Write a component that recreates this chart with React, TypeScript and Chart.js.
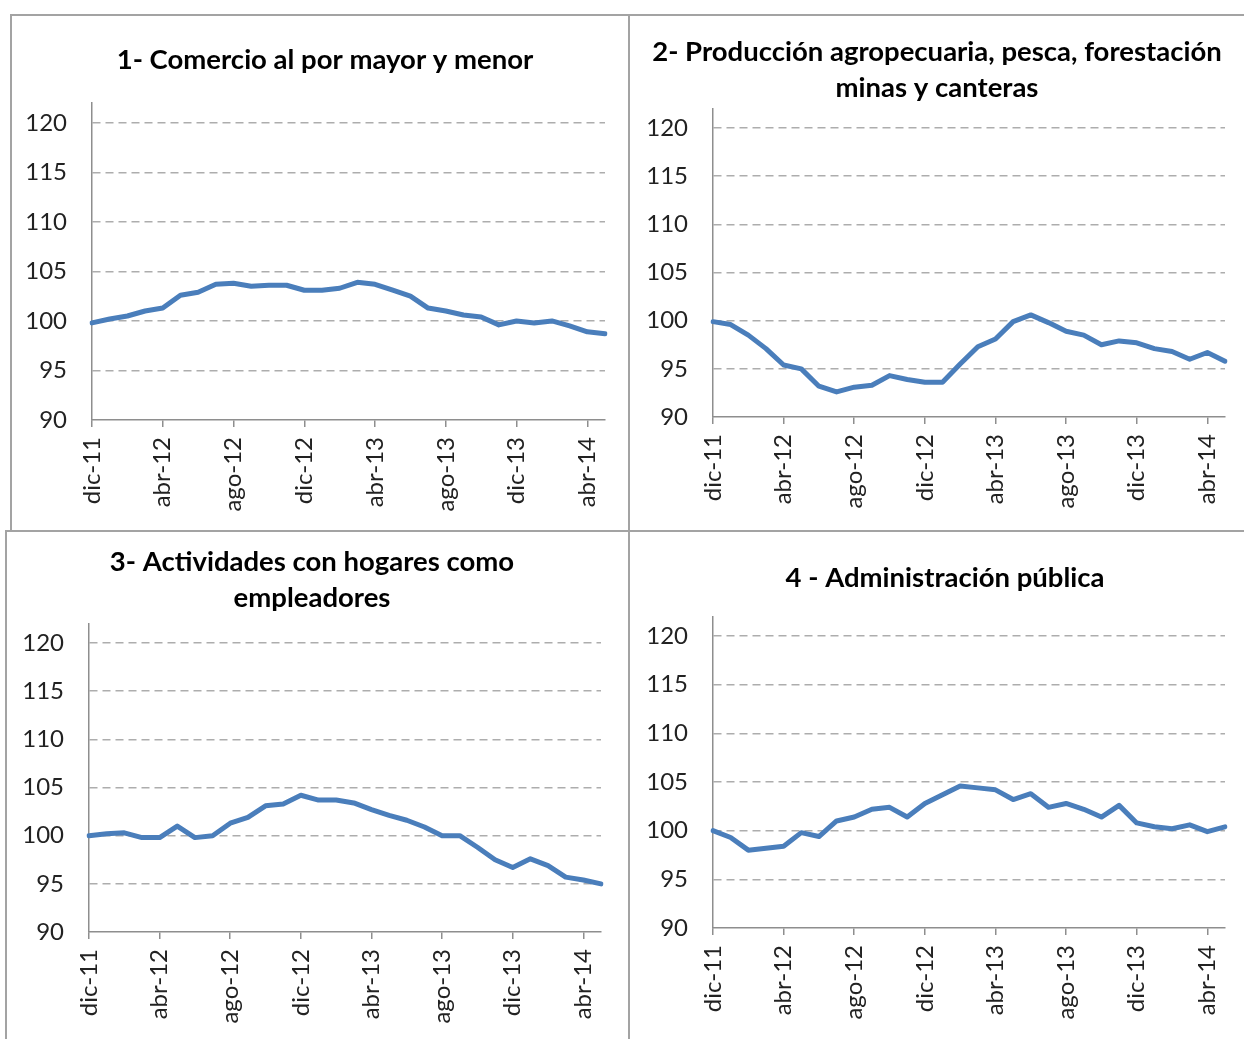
import React, { useEffect, useRef } from 'react';
import { Chart, registerables } from 'chart.js';

Chart.register(...registerables);

// ---------- DATA ----------
const months = [
  'dic-11', 'ene-12', 'feb-12', 'mar-12', 'abr-12', 'may-12', 'jun-12', 'jul-12',
  'ago-12', 'sep-12', 'oct-12', 'nov-12', 'dic-12', 'ene-13', 'feb-13', 'mar-13',
  'abr-13', 'may-13', 'jun-13', 'jul-13', 'ago-13', 'sep-13', 'oct-13', 'nov-13',
  'dic-13', 'ene-14', 'feb-14', 'mar-14', 'abr-14', 'may-14',
];

const yTickValues = [90, 95, 100, 105, 110, 115, 120];

const comercio = [
  99.8, 100.2, 100.5, 101.0, 101.3, 102.6, 102.9, 103.7, 103.8, 103.5,
  103.6, 103.6, 103.1, 103.1, 103.3, 103.9, 103.7, 103.1, 102.5, 101.3,
  101.0, 100.6, 100.4, 99.6, 100.0, 99.8, 100.0, 99.5, 98.9, 98.7,
];

const agropecuaria = [
  99.9, 99.6, 98.5, 97.1, 95.4, 95.0, 93.2, 92.6, 93.1, 93.3,
  94.3, 93.9, 93.6, 93.6, 95.5, 97.3, 98.1, 99.9, 100.6, 99.8,
  98.9, 98.5, 97.5, 97.9, 97.7, 97.1, 96.8, 96.0, 96.7, 95.8,
];

const hogares = [
  100.0, 100.2, 100.3, 99.8, 99.8, 101.0, 99.8, 100.0, 101.3, 101.9,
  103.1, 103.3, 104.2, 103.7, 103.7, 103.4, 102.7, 102.1, 101.6, 100.9,
  100.0, 100.0, 98.8, 97.5, 96.7, 97.6, 96.9, 95.7, 95.4, 95.0,
];

const administracion = [
  100.0, 99.3, 98.0, 98.2, 98.4, 99.8, 99.4, 101.0, 101.4, 102.2,
  102.4, 101.4, 102.8, 103.7, 104.6, 104.4, 104.2, 103.2, 103.8, 102.4,
  102.8, 102.2, 101.4, 102.6, 100.8, 100.4, 100.2, 100.6, 99.9, 100.4,
];

const titles = [
  ['1- Comercio al por mayor y menor'],
  ['2- Producción agropecuaria, pesca, forestación', 'minas y canteras'],
  ['3- Actividades con hogares como', 'empleadores'],
  ['4 - Administración pública'],
];

// ---------- STYLE / LAYOUT ----------
const FONT = 'Lato, "Open Sans", sans-serif';
const LINE_COLOR = '#4A7EBB';
const AXIS_COLOR = '#8e8e8e';
const GRID_COLOR = '#adadad';
const TICK_COLOR = '#222222';
const PANEL_BORDER = '2px solid #a3a3a3';
const TITLE_SIZE = 27.5;
const TITLE_GAP = 36;

type PanelGeom = {
  left: number; top: number; width: number; height: number;
  borders: { l?: boolean; t?: boolean; r?: boolean };
  pt: number; rp: number; bp: number; yw: number; xh: number;
  tx: number; ty: number;
};

const panels: PanelGeom[] = [
  { left: 10, top: 14, width: 620, height: 516, borders: { l: true, t: true, r: true },
    pt: 87, rp: 23, bp: 10, yw: 80, xh: 100, tx: 313, ty: 44 },
  { left: 630, top: 14, width: 614, height: 516, borders: { t: true },
    pt: 92.8, rp: 19, bp: 13, yw: 83, xh: 100, tx: 307, ty: 36 },
  { left: 5, top: 530, width: 625, height: 509, borders: { l: true, t: true, r: true },
    pt: 91.8, rp: 27, bp: 7, yw: 82, xh: 100, tx: 305, ty: 30 },
  { left: 630, top: 530, width: 614, height: 509, borders: { t: true },
    pt: 84.6, rp: 19, bp: 11, yw: 83, xh: 100, tx: 315, ty: 46 },
];

const seriesList = [comercio, agropecuaria, hogares, administracion];

function Panel({ geom, title, values }: { geom: PanelGeom; title: string[]; values: number[] }) {
  const ref = useRef<HTMLCanvasElement | null>(null);
  const bl = geom.borders.l ? 2 : 0;
  const bt = geom.borders.t ? 2 : 0;
  const br = geom.borders.r ? 2 : 0;
  const cw = geom.width - bl - br;
  const ch = geom.height - bt;

  useEffect(() => {
    if (!ref.current) return;
    const g = geom;
    const titlePlugin = {
      id: 'panelTitle',
      afterDraw(chart: any) {
        const ctx = chart.ctx;
        ctx.save();
        ctx.font = `bold ${TITLE_SIZE}px ${FONT}`;
        ctx.fillStyle = '#000000';
        ctx.textAlign = 'center';
        ctx.textBaseline = 'middle';
        title.forEach((line, i) => ctx.fillText(line, g.tx, g.ty + i * TITLE_GAP));
        ctx.restore();
      },
    };
    const chart = new Chart(ref.current, {
      type: 'line',
      data: {
        labels: months,
        datasets: [{
          data: values,
          borderColor: LINE_COLOR,
          backgroundColor: LINE_COLOR,
          borderWidth: 5,
          pointRadius: 0,
          pointHoverRadius: 0,
          tension: 0,
          fill: false,
          borderJoinStyle: 'round',
          borderCapStyle: 'round',
        }],
      },
      options: {
        animation: false,
        responsive: false,
        maintainAspectRatio: false,
        events: [],
        layout: { padding: { left: 0, right: g.rp, top: g.pt, bottom: g.bp } },
        plugins: {
          legend: { display: false },
          tooltip: { enabled: false },
          title: { display: false },
        },
        scales: {
          x: {
            type: 'category',
            offset: false,
            grid: {
              display: true,
              drawOnChartArea: false,
              drawTicks: true,
              tickLength: 7,
              lineWidth: 1.5,
              color: (ctx: any) => (ctx.index % 4 === 0 ? AXIS_COLOR : 'rgba(0,0,0,0)'),
            },
            border: { display: true, color: AXIS_COLOR, width: 1.5 },
            ticks: {
              autoSkip: false,
              maxRotation: 90,
              minRotation: 90,
              padding: 10,
              color: TICK_COLOR,
              font: { family: FONT, size: 24 },
              callback: (_v: any, i: number) => (i % 4 === 0 ? months[i] : ''),
            },
            afterFit: (s: any) => {
              s.height = g.xh;
              s.paddingLeft = 0;
              s.paddingRight = 0;
            },
          },
          y: {
            min: 90,
            max: 122,
            grid: {
              drawTicks: false,
              lineWidth: 1.5,
              color: (ctx: any) => (ctx.tick && ctx.tick.value === 90 ? 'rgba(0,0,0,0)' : GRID_COLOR),
            },
            border: { display: true, color: AXIS_COLOR, width: 1.5, dash: [8, 5] },
            ticks: {
              padding: 25,
              color: TICK_COLOR,
              font: { family: FONT, size: 24 },
            },
            afterBuildTicks: (s: any) => { s.ticks = yTickValues.map((v) => ({ value: v })); },
            afterFit: (s: any) => {
              s.width = g.yw;
              s.paddingTop = 0;
              s.paddingBottom = 0;
            },
          },
        },
      },
      plugins: [titlePlugin],
    } as any);
    return () => chart.destroy();
  }, []);

  return (
    <div
      style={{
        position: 'absolute',
        left: geom.left,
        top: geom.top,
        width: geom.width,
        height: geom.height,
        boxSizing: 'border-box',
        borderLeft: bl ? PANEL_BORDER : 'none',
        borderTop: bt ? PANEL_BORDER : 'none',
        borderRight: br ? PANEL_BORDER : 'none',
        background: '#ffffff',
      }}
    >
      <canvas ref={ref} width={cw} height={ch} style={{ display: 'block', width: cw, height: ch }} />
    </div>
  );
}

export default function App() {
  return (
    <div style={{ position: 'absolute', left: 0, top: 0, width: 1244, height: 1039, background: '#ffffff', overflow: 'hidden' }}>
      {panels.map((g, i) => (
        <Panel key={i} geom={g} title={titles[i]} values={seriesList[i]} />
      ))}
    </div>
  );
}
